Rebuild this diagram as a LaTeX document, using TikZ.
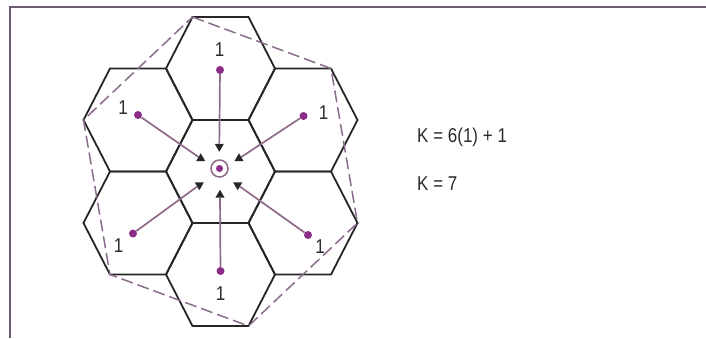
\documentclass[tikz,border=0pt]{standalone}
\usepackage{fontspec}
\setmainfont{Liberation Sans}[FakeStretch=0.85]
\usetikzlibrary{shapes.geometric}
\definecolor{framec}{HTML}{6B5E6E}
\definecolor{dotc}{HTML}{8B2D87}
\definecolor{armc}{HTML}{8E6A89}
\definecolor{dashc}{HTML}{8A6D8C}
\definecolor{txtc}{HTML}{2B2B2B}
\begin{document}
\begin{tikzpicture}[x=1pt,y=-1pt,
  hexline/.style={draw=black!85, line width=1.8pt, line join=miter},
  arm/.style={draw=armc, line width=1.7pt},
  dashline/.style={draw=dashc, line width=1.5pt, dash pattern=on 12pt off 5pt},
  celldot/.style={circle, fill=dotc, inner sep=0pt, minimum size=8pt},
  tipup/.style={regular polygon, regular polygon sides=3, fill=black!85, inner sep=0pt, minimum size=10.5pt},
  tipdown/.style={tipup, shape border rotate=180},
  lbl/.style={text=txtc, font=\fontsize{20}{22}\selectfont, inner sep=0pt},
  eq/.style={text=txtc, font=\fontsize{20}{22}\selectfont, inner sep=0pt, anchor=base west}]
\useasboundingbox (0,0) rectangle (706,338);
\fill[white] (0,0) rectangle (706,338);
% frame
\draw[framec, line width=2.2pt] (10,338) -- (10,7) -- (706,7);
% hexagons
\foreach \cx/\cy in {220.5/171.5, 220.5/68.5, 220.5/274.5, 138/120, 303/120, 138/223, 303/223}{
  \draw[hexline] ({\cx-28},{\cy-51.5}) -- ({\cx+28},{\cy-51.5}) -- ({\cx+54.5},\cy)
     -- ({\cx+28},{\cy+51.5}) -- ({\cx-28},{\cy+51.5}) -- ({\cx-54.5},\cy) -- cycle;
}
% dashed cluster outline
\coordinate (d1) at (192.5,17);
\coordinate (d2) at (331,68.5);
\coordinate (d3) at (357.5,223);
\coordinate (d4) at (248.5,326);
\coordinate (d5) at (110,274.5);
\coordinate (d6) at (83.5,120);
\draw[dashline] (d1) -- (d2) -- (d3) -- (d4) -- (d5) -- (d6) -- cycle;
% cell dots
\node[celldot] (pt) at (220,70) {};
\node[celldot] (pul) at (138,115) {};
\node[celldot] (pur) at (303.5,116) {};
\node[celldot] (pll) at (133,233.5) {};
\node[celldot] (plr) at (308,235) {};
\node[celldot] (pb) at (220.5,271) {};
% arrow tips
\node[tipdown] (at) at (219.3,146.5) {};
\node[tipup] (aul) at (200.7,158.5) {};
\node[tipup] (aur) at (239,158.5) {};
\node[tipdown] (all) at (199.3,185) {};
\node[tipdown] (alr) at (237.7,185) {};
\node[tipup] (ab) at (220,195) {};
% arms
\draw[arm] (pt) -- (at);
\draw[arm] (pul) -- (aul);
\draw[arm] (pur) -- (aur);
\draw[arm] (pll) -- (all);
\draw[arm] (plr) -- (alr);
\draw[arm] (pb) -- (ab);
% centre
\node[circle, draw=armc, line width=1.5pt, inner sep=0pt, minimum size=17pt] (ring) at (219.5,168.5) {};
\node[celldot, minimum size=7pt] (pc) at (ring) {};
% labels
\node[lbl] (lt) at (219.5,49.5) {1};
\node[lbl] (lul) at (123,108) {1};
\node[lbl] (lur) at (323.5,113) {1};
\node[lbl] (lll) at (118.5,245.5) {1};
\node[lbl] (llr) at (320,246.5) {1};
\node[lbl] (lb) at (220.5,294) {1};
% equations
\node[eq] (e1) at (417,142.3) {K = 6(1) + 1};
\node[eq] (e2) at (417,190.7) {K = 7};
\end{tikzpicture}
\end{document}
